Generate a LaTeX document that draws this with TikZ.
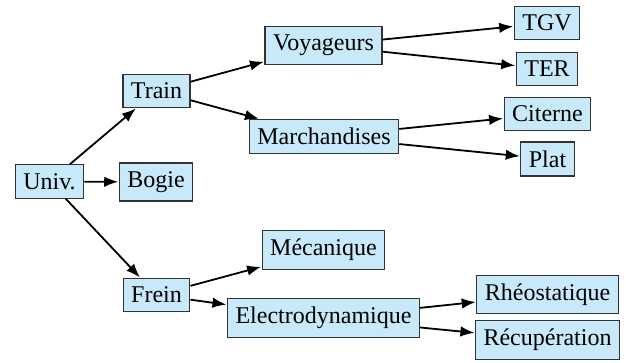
\documentclass[tikz,border=0pt]{standalone}
\usepackage{fontspec}
\setmainfont{Liberation Serif}
\usetikzlibrary{arrows.meta}
\definecolor{boxfill}{HTML}{C8E9F9}
\definecolor{boxline}{HTML}{333333}
\begin{document}
\begin{tikzpicture}[x=1pt,y=-1pt,
  box/.style={draw=boxline, fill=boxfill, line width=1.2pt,
    inner xsep=8pt, inner ysep=8.5pt, font=\fontsize{24}{28}\selectfont},
  link/.style={line width=1.8pt, -{Latex[length=14pt,width=10.5pt]}, shorten >=0.5pt}]
\useasboundingbox (0,0) rectangle (626,363);
% tree nodes
\node[box] (univ)  at (49.5,181.5) {Univ.};
\node[box] (bogie) at (156,182) {Bogie};
\node[box] (train) at (156.5,91) {Train};
\node[box] (frein) at (156.5,295) {Frein};
\node[box] (voy)   at (323.5,45.5) {Voyageurs};
\node[box] (march) at (324,136.5) {Marchandises};
\node[box] (meca)  at (323.5,250) {Mécanique};
\node[box] (elec)  at (323.5,318) {Electrodynamique};
\node[box] (tgv)   at (547,23) {TGV};
\node[box] (ter)   at (547,69) {TER};
\node[box] (cit)   at (547.5,114) {Citerne};
\node[box] (plat)  at (547.5,159) {Plat};
\node[box] (rheo)  at (547.5,294.5) {Rhéostatique};
\node[box] (recup) at (547.5,340) {Récupération};
% connectors
\draw[link] (univ) -- (train);
\draw[link] (univ) -- (bogie);
\draw[link] (univ) -- (frein);
\draw[link] (train) -- (voy);
\draw[link] (train) -- (march);
\draw[link] (voy) -- (tgv);
\draw[link] (voy) -- (ter);
\draw[link] (march) -- (cit);
\draw[link] (march) -- (plat);
\draw[link] (frein) -- (meca);
\draw[link] (frein) -- (elec);
\draw[link] (elec) -- (rheo);
\draw[link] (elec) -- (recup);
\end{tikzpicture}
\end{document}
